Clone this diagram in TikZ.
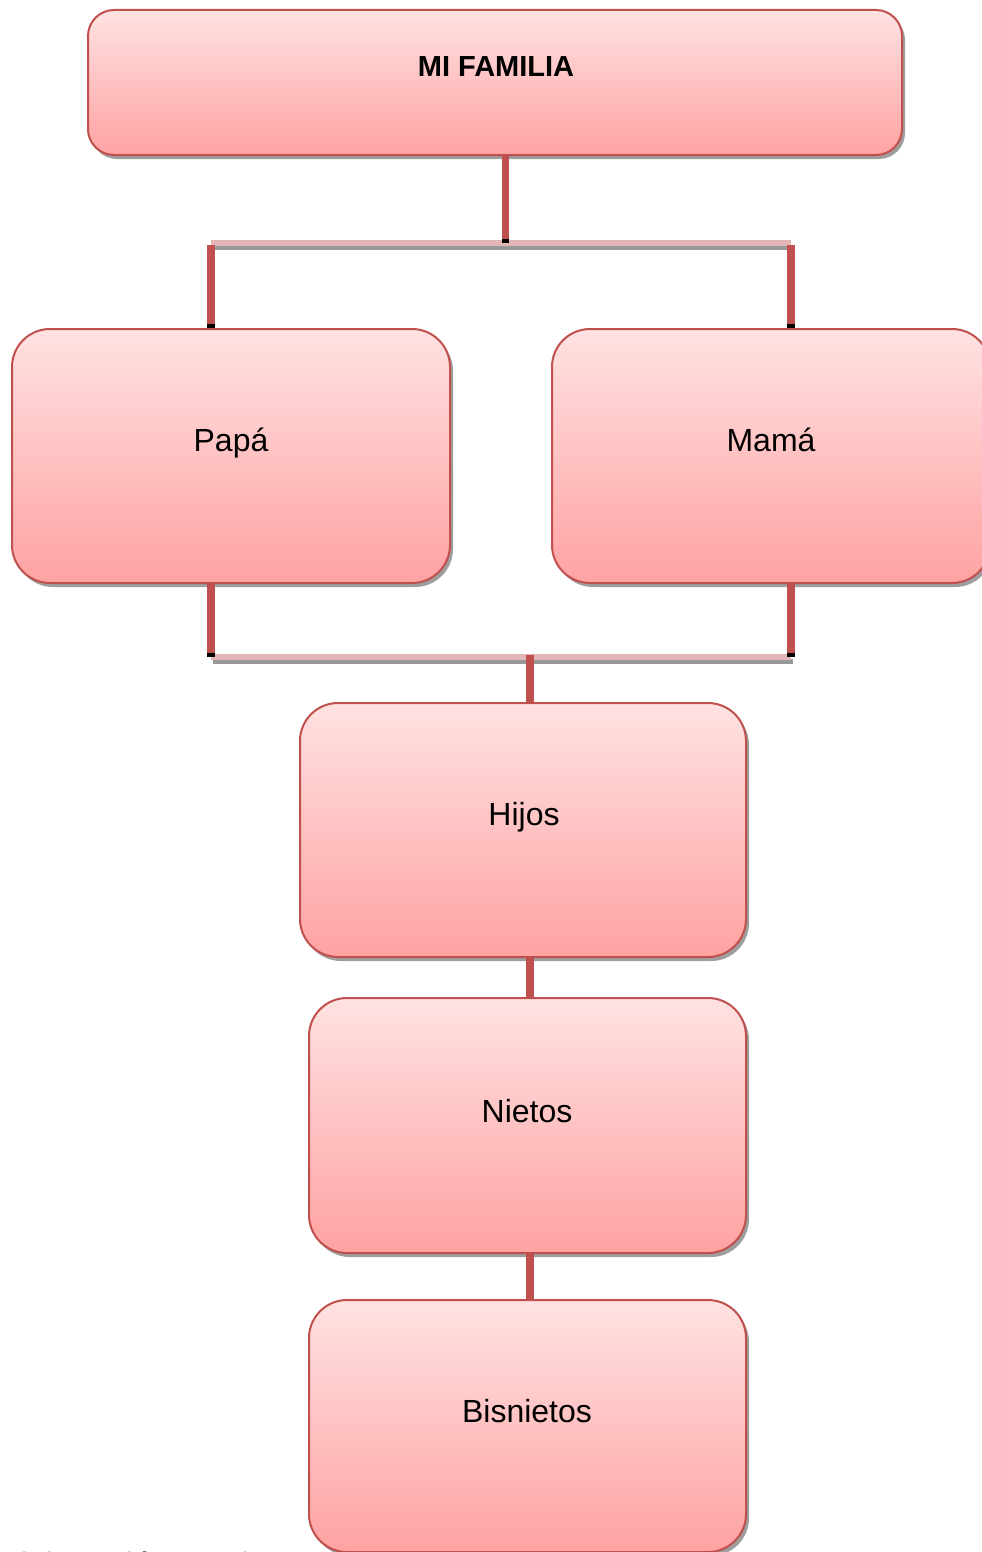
\documentclass[tikz,border=0pt]{standalone}
\usepackage{fontspec}
\setmainfont{Liberation Sans}
\usetikzlibrary{shadows,arrows.meta}

\definecolor{cardline}{HTML}{C0504D}
\definecolor{cardtop}{HTML}{FFE2E2}
\definecolor{cardbottom}{HTML}{FFA2A2}
\definecolor{barpink}{HTML}{E2B6B6}

\begin{document}
\begin{tikzpicture}[x=1pt,y=-1pt,
  card/.style={rectangle, rounded corners=#1, draw=cardline, line width=2pt,
    top color=cardtop, bottom color=cardbottom, inner sep=0pt,
    drop shadow={shadow xshift=3pt, shadow yshift=-4pt, fill=black!38, opacity=1}},
  card/.default=38pt,
  lbl/.style={anchor=base, inner sep=0pt, font=\fontsize{32}{38}\selectfont},
  title/.style={anchor=base, inner sep=0pt, font=\fontsize{29}{34}\selectfont\bfseries},
  conn/.style={draw=cardline, line width=7.5pt},
  endsq/.style={-{Rectangle[black, length=4pt, width=7.5pt]}},
  bar/.style={draw=barpink, line width=6pt,
    preaction={draw=black!40, line width=5pt, transform canvas={xshift=2pt, yshift=-4pt}}}
]
\useasboundingbox (0,0) rectangle (982,1552);

% family cards
\node[card=26pt, minimum width=814pt, minimum height=145pt] (fam) at (495,82.5) {};
\node[card, minimum width=438pt, minimum height=254pt] (papa) at (231,456) {};
\node[card, minimum width=438pt, minimum height=254pt] (mama) at (771,456) {};
\node[card, minimum width=446pt, minimum height=254pt] (hijos) at (523,830) {};
\node[card, minimum width=437pt, minimum height=255pt] (nietos) at (527.5,1125.5) {};
\node[card, minimum width=437pt, minimum height=252pt] (bis) at (527.5,1426) {};

% card labels
\node[title] (fam-t) at (496,77) {MI FAMILIA};
\node[lbl] (papa-t) at (231,451.5) {Papá};
\node[lbl] (mama-t) at (771,451.5) {Mamá};
\node[lbl] (hijos-t) at (524,825.5) {Hijos};
\node[lbl] (nietos-t) at (527,1122.5) {Nietos};
\node[lbl] (bis-t) at (527,1422.5) {Bisnietos};

% junction points of the tree
\coordinate (top-c) at (505.5,243);
\coordinate (top-l) at (211,243);
\coordinate (top-r) at (791,243);
\coordinate (bot-c) at (530,655);
\coordinate (bot-l) at (211,657);
\coordinate (bot-r) at (791,657);

% horizontal bars
\draw[bar] (top-l) -- (top-r);
\draw[bar] (bot-l) -- (bot-r);

% parents branch
\draw[conn, endsq] (fam.south -| top-c) -- (top-c);
\draw[conn, endsq] ([yshift=-2pt]top-l) -- (papa.north -| top-l);
\draw[conn, endsq] ([yshift=-2pt]top-r) -- (mama.north -| top-r);

% children branch
\draw[conn, endsq] (papa.south -| bot-l) -- (bot-l);
\draw[conn, endsq] (mama.south -| bot-r) -- (bot-r);
\draw[conn] (bot-c) -- (hijos.north -| bot-c);
\draw[conn] (hijos.south -| bot-c) -- (nietos.north -| bot-c);
\draw[conn] (nietos.south -| bot-c) -- (bis.north -| bot-c);

% source line below the chart, running off the lower edge
\node[lbl, anchor=base west] (src) at (3,1575) {elaboración propia};
\end{tikzpicture}
\end{document}
